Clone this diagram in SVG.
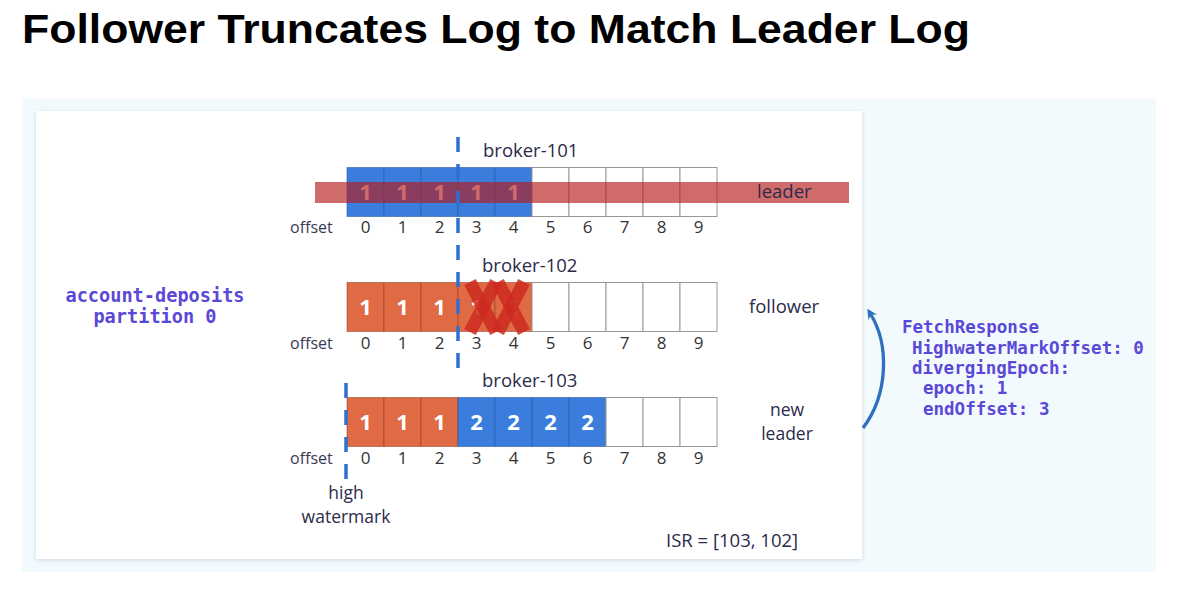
<svg xmlns="http://www.w3.org/2000/svg" width="1178" height="590" viewBox="0 0 1178 590">
<defs>
<style>
.title{font-family:"Liberation Sans",Arial,sans-serif;font-weight:bold;font-size:41px;fill:#000}
.lbl{font-family:"Open Sans","Liberation Sans",sans-serif;font-size:18.5px;fill:#2b2b4a}
.lbl2{font-family:"Open Sans","Liberation Sans",sans-serif;font-size:17.5px;fill:#2b2b4a;text-anchor:middle}
.off{font-family:"Open Sans","Liberation Sans",sans-serif;font-size:17px;fill:#333}
.offw{font-family:"Open Sans","Liberation Sans",sans-serif;font-size:16px;fill:#3a3a55}
.dig{font-family:"Open Sans","Liberation Sans",sans-serif;font-weight:bold;font-size:22px;fill:#fff;text-anchor:middle}
.mono{font-family:"DejaVu Sans Mono","Liberation Mono",monospace;font-weight:bold;fill:#5a48d6}
.blue{fill:#3b7ddd;stroke:#2d5aa0;stroke-opacity:.6;stroke-width:1}
.org{fill:#e06a44;stroke:#8a3a22;stroke-opacity:.5;stroke-width:1}
.emp{fill:#fff;stroke:#999;stroke-width:1}
.dash{stroke:#2f6fd0;stroke-width:3.5;stroke-dasharray:15 12;fill:none}
</style>
<filter id="sh" x="-5%" y="-5%" width="110%" height="110%">
<feDropShadow dx="0" dy="1" stdDeviation="2" flood-color="#8899aa" flood-opacity="0.35"/>
</filter>
<marker id="ah" markerWidth="10" markerHeight="10" refX="5" refY="5" orient="auto" markerUnits="userSpaceOnUse">
<path d="M0,0 L10,5 L0,10 L3,5 Z" fill="#2f6fbf"/>
</marker>
</defs>
<rect width="1178" height="590" fill="#fff"/>
<text class="title" x="22" y="43" textLength="948" lengthAdjust="spacingAndGlyphs">Follower Truncates Log to Match Leader Log</text>
<rect x="22" y="98" width="1134" height="474" fill="#f2fafe"/>
<rect x="36" y="111" width="826" height="448" fill="#fff" filter="url(#sh)"/>

<g id="broker-101">
<text class="lbl" x="483" y="157">broker-101</text>
<rect class="blue" x="347" y="167.5" width="37" height="49"/>
<rect class="blue" x="384" y="167.5" width="37" height="49"/>
<rect class="blue" x="421" y="167.5" width="37" height="49"/>
<rect class="blue" x="458" y="167.5" width="37" height="49"/>
<rect class="blue" x="495" y="167.5" width="37" height="49"/>
<rect class="emp" x="532" y="167.5" width="37" height="49"/>
<rect class="emp" x="569" y="167.5" width="37" height="49"/>
<rect class="emp" x="606" y="167.5" width="37" height="49"/>
<rect class="emp" x="643" y="167.5" width="37" height="49"/>
<rect class="emp" x="680" y="167.5" width="37" height="49"/>
<text class="dig" x="365.5" y="200">1</text>
<text class="dig" x="402.5" y="200">1</text>
<text class="dig" x="439.5" y="200">1</text>
<text class="dig" x="476.5" y="200">1</text>
<text class="dig" x="513.5" y="200">1</text>
<rect x="315" y="182" width="534" height="21" fill="#b71c1c" fill-opacity="0.65"/>
<text class="lbl" x="757" y="198">leader</text>
<text class="offw" x="290" y="233">offset</text>
<g class="off" text-anchor="middle">
<text x="365.5" y="233">0</text><text x="402.5" y="233">1</text><text x="439.5" y="233">2</text><text x="476.5" y="233">3</text><text x="513.5" y="233">4</text>
<text x="550.5" y="233">5</text><text x="587.5" y="233">6</text><text x="624.5" y="233">7</text><text x="661.5" y="233">8</text><text x="698.5" y="233">9</text>
</g>
</g>

<g id="broker-102">
<text class="lbl" x="482" y="272">broker-102</text>
<rect class="org" x="347" y="282.5" width="37" height="49"/>
<rect class="org" x="384" y="282.5" width="37" height="49"/>
<rect class="org" x="421" y="282.5" width="37" height="49"/>
<rect class="org" x="458" y="282.5" width="37" height="49"/>
<rect class="org" x="495" y="282.5" width="37" height="49"/>
<rect class="emp" x="532" y="282.5" width="37" height="49"/>
<rect class="emp" x="569" y="282.5" width="37" height="49"/>
<rect class="emp" x="606" y="282.5" width="37" height="49"/>
<rect class="emp" x="643" y="282.5" width="37" height="49"/>
<rect class="emp" x="680" y="282.5" width="37" height="49"/>
<text class="dig" x="365.5" y="315">1</text>
<text class="dig" x="402.5" y="315">1</text>
<text class="dig" x="439.5" y="315">1</text>
<text class="dig" x="476.5" y="315">1</text>
<text class="dig" x="513.5" y="315">1</text>
<g stroke="#cc2a1e" stroke-opacity="0.85" stroke-width="13">
<line x1="470" y1="282" x2="496" y2="332"/>
<line x1="496" y1="282" x2="470" y2="332"/>
<line x1="498" y1="282" x2="524" y2="332"/>
<line x1="524" y1="282" x2="498" y2="332"/>
</g>
<text class="lbl" x="749" y="313">follower</text>
<text class="offw" x="290" y="349">offset</text>
<g class="off" text-anchor="middle">
<text x="365.5" y="349">0</text><text x="402.5" y="349">1</text><text x="439.5" y="349">2</text><text x="476.5" y="349">3</text><text x="513.5" y="349">4</text>
<text x="550.5" y="349">5</text><text x="587.5" y="349">6</text><text x="624.5" y="349">7</text><text x="661.5" y="349">8</text><text x="698.5" y="349">9</text>
</g>
</g>

<g id="broker-103">
<text class="lbl" x="482" y="387">broker-103</text>
<rect class="org" x="347" y="397.5" width="37" height="49"/>
<rect class="org" x="384" y="397.5" width="37" height="49"/>
<rect class="org" x="421" y="397.5" width="37" height="49"/>
<rect class="blue" x="458" y="397.5" width="37" height="49"/>
<rect class="blue" x="495" y="397.5" width="37" height="49"/>
<rect class="blue" x="532" y="397.5" width="37" height="49"/>
<rect class="blue" x="569" y="397.5" width="37" height="49"/>
<rect class="emp" x="606" y="397.5" width="37" height="49"/>
<rect class="emp" x="643" y="397.5" width="37" height="49"/>
<rect class="emp" x="680" y="397.5" width="37" height="49"/>
<text class="dig" x="365.5" y="430">1</text>
<text class="dig" x="402.5" y="430">1</text>
<text class="dig" x="439.5" y="430">1</text>
<text class="dig" x="476.5" y="430">2</text>
<text class="dig" x="513.5" y="430">2</text>
<text class="dig" x="550.5" y="430">2</text>
<text class="dig" x="587.5" y="430">2</text>
<text class="lbl2" x="787" y="416">new</text>
<text class="lbl2" x="787" y="440">leader</text>
<text class="offw" x="290" y="464">offset</text>
<g class="off" text-anchor="middle">
<text x="365.5" y="464">0</text><text x="402.5" y="464">1</text><text x="439.5" y="464">2</text><text x="476.5" y="464">3</text><text x="513.5" y="464">4</text>
<text x="550.5" y="464">5</text><text x="587.5" y="464">6</text><text x="624.5" y="464">7</text><text x="661.5" y="464">8</text><text x="698.5" y="464">9</text>
</g>
</g>

<g id="high-watermark">
<text class="lbl2" x="346" y="499">high</text>
<text class="lbl2" x="346" y="523">watermark</text>
</g>

<g id="partition">
<text class="mono" font-size="18.6" x="155" y="302" text-anchor="middle">account-deposits</text>
<text class="mono" font-size="18.6" x="155" y="323" text-anchor="middle">partition 0</text>
</g>

<g id="fetch-response" class="mono" font-size="17.5">
<text x="902" y="333">FetchResponse</text>
<text x="912" y="354">HighwaterMarkOffset: 0</text>
<text x="912" y="374">divergingEpoch:</text>
<text x="923" y="394">epoch: 1</text>
<text x="923" y="415">endOffset: 3</text>
</g>

<g id="isr">
<text class="lbl" x="666" y="547">ISR = [103, 102]</text>
</g>

<g id="connectors">
<line class="dash" x1="458" y1="137" x2="458" y2="378"/>
<line class="dash" x1="346" y1="383" x2="346" y2="480"/>
<path d="M863 428 C888 395 890 345 870 313" fill="none" stroke="#2f6fbf" stroke-width="3.3" marker-end="url(#ah)"/>
</g>
</svg>
